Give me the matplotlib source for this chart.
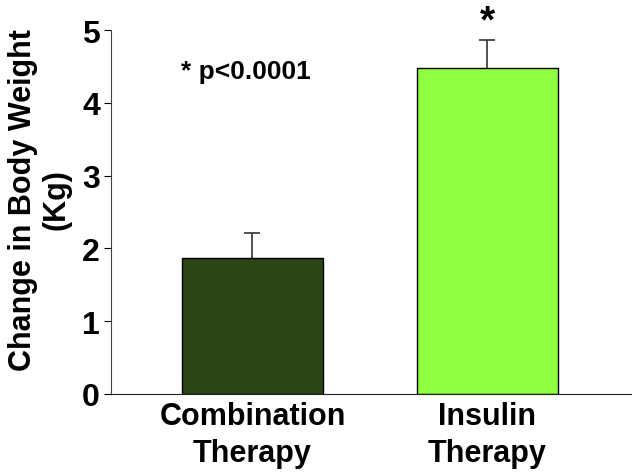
import matplotlib
matplotlib.use('Agg')
import matplotlib.pyplot as plt

# Data
groups = ['Combination\nTherapy', 'Insulin\nTherapy']
weight_change = [1.87, 4.48]
sem = [0.34, 0.38]
bar_colors = ['#2b4515', '#8fff3f']

plt.rcParams['font.family'] = ['Liberation Sans', 'DejaVu Sans']
plt.rcParams['font.weight'] = 'bold'

fig = plt.figure(figsize=(6.32, 4.77), dpi=100)
ax = fig.add_axes([0.1756, 0.172, 0.8244, 0.763])

x = [0, 1]
# error bars behind the bars so only the upper half shows
ax.errorbar(x, weight_change, yerr=sem, fmt='none', ecolor='#333333',
            elinewidth=1.2, capsize=6, capthick=1.2, zorder=1)
ax.bar(x, weight_change, width=0.6, color=bar_colors, edgecolor='black', linewidth=1, zorder=2)

ax.set_xlim(-0.602, 1.615)
ax.set_ylim(0, 5)
ax.set_yticks([0, 1, 2, 3, 4, 5])
ax.set_xticks(x)
ax.set_xticklabels(groups, fontsize=22, fontweight='bold', linespacing=1.3)
ax.tick_params(axis='x', length=0, pad=5)
ax.tick_params(axis='y', length=5, labelsize=23, direction='out', pad=3)
for lab in ax.get_yticklabels():
    lab.set_fontweight('bold')

ax.spines['top'].set_visible(False)
ax.spines['right'].set_visible(False)
ax.spines['left'].set_color('#444444')
ax.spines['bottom'].set_color('#222222')

ax.set_ylabel('Change in Body Weight\n(Kg)', fontsize=22, fontweight='bold', linespacing=1.15)
ax.yaxis.set_label_coords(-0.075, 0.536)

ax.text(-0.03, 4.44, '* p<0.0001', fontsize=19, fontweight='bold', ha='center', va='center')
ax.text(1, 5.12, '*', fontsize=28, fontweight='bold', ha='center', va='center', clip_on=False)

fig.savefig('out.png', dpi=100)
